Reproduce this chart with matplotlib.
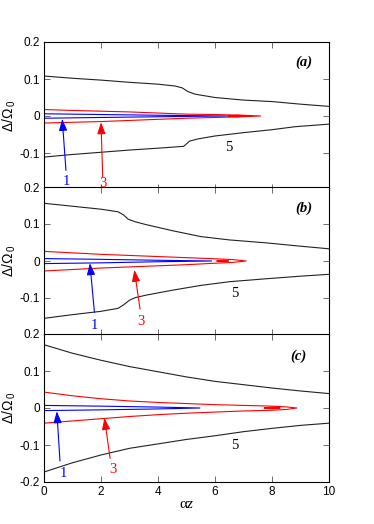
import matplotlib.pyplot as plt

plt.rcParams["font.family"] = ["Liberation Sans", "DejaVu Sans"]
plt.rcParams["mathtext.fontset"] = "custom"
plt.rcParams["mathtext.rm"] = "Liberation Sans"
plt.rcParams["mathtext.it"] = "Liberation Serif:italic"

PANELS = ["(a)", "(b)", "(c)"]

# black curve "5": upper and lower branches
x5_up = [
    [0, 1, 2, 3, 4, 4.6, 4.85, 5.05, 5.3, 6, 7, 8, 9, 10],
    [0, 1, 2, 2.6, 2.8, 2.95, 3.2, 3.6, 4.5, 5.5, 6.5, 7.8, 9, 10],
    [0, 1, 2, 3, 4, 5, 6, 7, 8, 9, 10],
]
y5_up = [
    [0.108, 0.102, 0.097, 0.091, 0.086, 0.081, 0.076, 0.066, 0.059, 0.050, 0.043, 0.039, 0.032, 0.026],
    [0.156, 0.148, 0.140, 0.133, 0.124, 0.113, 0.106, 0.098, 0.082, 0.066, 0.057, 0.049, 0.040, 0.033],
    [0.171, 0.148, 0.129, 0.112, 0.098, 0.084, 0.072, 0.063, 0.054, 0.046, 0.039],
]
x5_lo = [
    [0, 1, 2, 3, 4, 4.9, 5.02, 5.1, 5.4, 6, 7, 8, 8.8, 10],
    [0, 1, 2, 2.6, 2.8, 3.0, 3.2, 3.6, 4.5, 5.5, 6.5, 7.8, 9, 10],
    [0, 1, 2, 3, 4, 5, 6, 7, 8, 9, 10],
]
y5_lo = [
    [-0.111, -0.104, -0.098, -0.092, -0.087, -0.082, -0.074, -0.068, -0.062, -0.054, -0.045, -0.037, -0.029, -0.022],
    [-0.155, -0.145, -0.136, -0.128, -0.118, -0.106, -0.099, -0.092, -0.079, -0.066, -0.056, -0.048, -0.041, -0.036],
    [-0.173, -0.148, -0.127, -0.109, -0.097, -0.085, -0.075, -0.064, -0.055, -0.047, -0.041],
]

# red loop "3"
x3 = [
    [0, 1, 2, 3, 4, 5, 6, 7, 7.6],
    [0, 1, 2, 3, 4, 5, 6, 6.6, 7.09],
    [0, 1, 2, 3, 4, 5, 6, 7, 8, 8.5, 8.87],
]
y3_up = [
    [0.0175, 0.015, 0.013, 0.011, 0.008, 0.005, 0.004, 0.002, 0],
    [0.026, 0.022, 0.018, 0.015, 0.012, 0.009, 0.006, 0.004, 0],
    [0.043, 0.033, 0.025, 0.019, 0.015, 0.012, 0.009, 0.007, 0.005, 0.003, 0],
]
y3_lo = [
    [-0.019, -0.017, -0.015, -0.012, -0.009, -0.006, -0.004, -0.002, 0],
    [-0.027, -0.023, -0.019, -0.016, -0.013, -0.010, -0.006, -0.004, 0],
    [-0.041, -0.035, -0.029, -0.023, -0.018, -0.014, -0.011, -0.008, -0.006, -0.004, 0],
]
# small red island near the tip
xi = [[6.46, 6.78, 7.1], [6.08, 6.28, 6.47], [7.75, 8.0, 8.28]]
yi = [[0, 0.0018, 0], [0, 0.0018, 0], [0, 0.0018, 0]]

# blue loop "1"
x1 = [[0, 2, 4, 6.4], [0, 2, 4, 5.88], [0, 2, 4, 5.47]]
y1_up = [[0.006, 0.004, 0.002, 0], [0.0065, 0.0045, 0.002, 0], [0.007, 0.005, 0.0025, 0]]
y1_lo = [[-0.006, -0.004, -0.002, 0], [-0.007, -0.005, -0.002, 0], [-0.007, -0.005, -0.0025, 0]]

# arrows: (label pos, tail, head)
lab1 = [(0.77, -0.178), (1.77, -0.173), (0.68, -0.176)]
tail1 = [(0.77, -0.147), (1.77, -0.139), (0.56, -0.143)]
head1 = [(0.64, -0.008), (1.61, -0.006), (0.45, -0.009)]
lab3 = [(2.06, -0.182), (3.39, -0.164), (2.43, -0.165)]
tail3 = [(2.06, -0.165), (3.37, -0.130), (2.32, -0.136)]
head3 = [(2.0, -0.017), (3.17, -0.024), (2.12, -0.027)]
lab5 = [(6.5, -0.086), (6.7, -0.087), (6.7, -0.102)]
panel_pos = [(9.1, 0.145), (9.1, 0.143), (8.92, 0.141)]

BLUE = "#0000ff"
RED = "#ff0000"

fig = plt.figure(figsize=(3.74, 5.24), dpi=100)
left, right = 44 / 374, 329 / 374
tops = [42, 187, 334]
h = 148
for i in range(3):
    b = 1 - (tops[i] + h) / 524
    ax = fig.add_axes([left, b, right - left, h / 524])
    ax.plot(x5_up[i], y5_up[i], color="#222222", lw=0.8)
    ax.plot(x5_lo[i], y5_lo[i], color="#222222", lw=0.8)
    ax.plot(x3[i] + x3[i][::-1], y3_up[i] + y3_lo[i][::-1], color=RED, lw=0.8)
    ax.plot(xi[i] + xi[i][::-1], yi[i] + [-v for v in yi[i][::-1]], color=RED, lw=1.0)
    ax.plot(x1[i] + x1[i][::-1], y1_up[i] + y1_lo[i][::-1], color=BLUE, lw=0.8)

    ax.annotate("", xy=head1[i], xytext=tail1[i],
                arrowprops=dict(arrowstyle="-|>,head_length=0.7,head_width=0.25",
                                color=BLUE, lw=0.8, shrinkA=0, shrinkB=0))
    ax.annotate("", xy=head3[i], xytext=tail3[i],
                arrowprops=dict(arrowstyle="-|>,head_length=0.7,head_width=0.25",
                                color=RED, lw=0.8, shrinkA=0, shrinkB=0))
    ax.text(*lab1[i], "1", color=BLUE, family="Liberation Serif", fontsize=10.5,
            ha="center", va="center")
    ax.text(*lab3[i], "3", color=RED, family="Liberation Serif", fontsize=10.5,
            ha="center", va="center")
    ax.text(*lab5[i], "5", color="black", family="Liberation Serif", fontsize=10.5,
            ha="center", va="center")
    ax.text(*panel_pos[i], PANELS[i], family="Liberation Serif", fontsize=10.5,
            fontweight="bold", fontstyle="italic", ha="center", va="center")

    ax.set_xlim(0, 10)
    ax.set_ylim(-0.2, 0.2)
    ax.set_xticks([0, 2, 4, 6, 8, 10])
    ax.set_yticks([-0.2, -0.1, 0, 0.1, 0.2])
    ax.set_yticklabels(["" if i < 2 else "-0.2", "-0.1", "0", "0.1", "0.2"])
    ax.tick_params(direction="in", top=True, right=True, length=4, width=0.6,
                   color="#555555", labelsize=8.5, pad=3)
    for s in ax.spines.values():
        s.set_linewidth(0.8)
    ax.set_ylabel(r"$\Delta/\Omega_{\ 0}$", fontsize=10, labelpad=1)
    if i < 2:
        ax.tick_params(labelbottom=False)
    else:
        ax.set_xlabel(r"α$z$", family="Liberation Serif", fontsize=11, labelpad=0)

fig.savefig("out.png", dpi=100)
